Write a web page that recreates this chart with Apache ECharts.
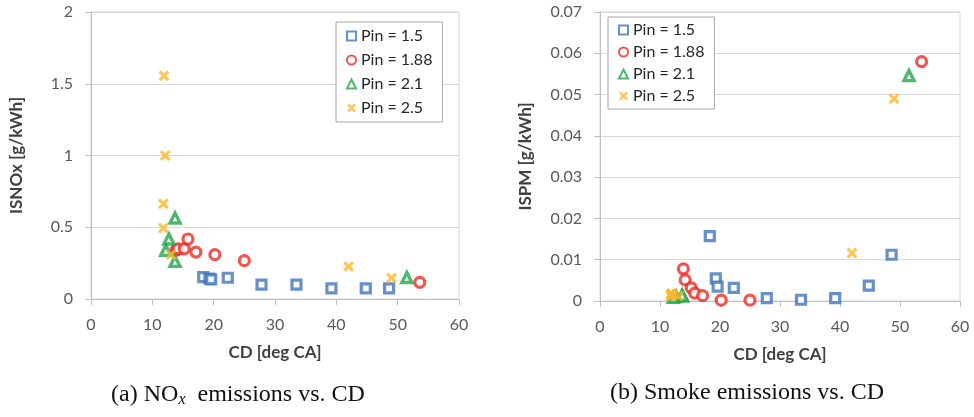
<!DOCTYPE html>
<html>
<head>
<meta charset="utf-8">
<script src="https://cdn.jsdelivr.net/npm/echarts@6/dist/echarts.min.js"></script>
<style>
  html, body { margin: 0; padding: 0; background: #fff; }
  #chart { width: 974px; height: 417px; }
</style>
</head>
<body>
<div id="chart"></div>
<script>
// CD [deg CA] for each pressure level, and the two emission readings
const seriesNames = ['Pin = 1.5', 'Pin = 1.88', 'Pin = 2.1', 'Pin = 2.5']

const cd15 = [18.3, 19.3, 19.6, 22.3, 27.8, 33.5, 39.2, 44.8, 48.6]
const nox15 = [0.153, 0.142, 0.137, 0.148, 0.1, 0.1, 0.074, 0.074, 0.074]
const pm15 = [0.0157, 0.0055, 0.0035, 0.0032, 0.0007, 0.0003, 0.0007, 0.0037, 0.0112]

const cd188 = [13.9, 14.2, 15.2, 15.8, 17.1, 20.2, 25.0, 53.6]
const nox188 = [0.34, 0.35, 0.35, 0.418, 0.327, 0.309, 0.267, 0.116]
const pm188 = [0.0078, 0.0051, 0.0032, 0.0019, 0.0013, 0.0002, 0.0002, 0.058]

const cd21 = [13.7, 12.7, 12.2, 13.7, 51.5]
const nox21 = [0.564, 0.418, 0.339, 0.262, 0.15]
const pm21 = [0.0012, 0.0011, 0.0009, 0.0014, 0.0546]

const cd25 = [11.9, 12.1, 11.8, 11.8, 13.05, 42.0, 49.0]
const nox25 = [1.556, 1.0, 0.664, 0.495, 0.309, 0.227, 0.146]
const pm25 = [0.0018, 0.0015, 0.0012, 0.0016, 0.0012, 0.0116, 0.049]

const xTicks = [0, 10, 20, 30, 40, 50, 60]

const colors = ['#3E74BA', '#EC2A24', '#23A64C', '#FCB82C']
const crossPath = 'path://M2,0 L5,3 L8,0 L10,2 L7,5 L10,8 L8,10 L5,7 L2,10 L0,8 L3,5 L0,2 Z'

const zip = (xs, ys) => xs.map((x, i) => [x, ys[i]])

const labelFont = 'Lato, "Open Sans", sans-serif'

const markerStyles = [
    { symbol: 'rect', symbolSize: 9, itemStyle: { color: '#fff', borderColor: colors[0], borderWidth: 3.2 } },
    { symbol: 'circle', symbolSize: 10, itemStyle: { color: '#fff', borderColor: colors[1], borderWidth: 3.2 } },
    { symbol: 'triangle', symbolSize: 10, itemStyle: { color: '#fff', borderColor: colors[2], borderWidth: 3.4 } },
    { symbol: crossPath, symbolSize: 11, itemStyle: { color: colors[3] } },
]

const makeSeries = (gridIndex, datasets) => datasets.map((d, i) => ({
    name: seriesNames[i],
    type: 'scatter',
    xAxisIndex: gridIndex,
    yAxisIndex: gridIndex,
    data: d,
    symbol: markerStyles[i].symbol,
    symbolSize: markerStyles[i].symbolSize,
    itemStyle: markerStyles[i].itemStyle,
    z: 2 + (i === 3 ? 1 : 0),
}))

const xAxisBase = (gridIndex) => ({
    type: 'value',
    gridIndex: gridIndex,
    min: xTicks[0],
    max: xTicks[xTicks.length - 1],
    interval: 10,
    name: 'CD [deg CA]',
    nameLocation: 'middle',
    nameGap: 45,
    nameTextStyle: { fontFamily: labelFont, fontSize: 17, fontWeight: 'bold', color: '#404040' },
    axisLine: { show: true, lineStyle: { color: '#bfbfbf' } },
    axisTick: { show: true, length: 6, lineStyle: { color: '#bfbfbf' } },
    axisLabel: { fontFamily: labelFont, fontSize: 16, color: '#595959', margin: 18 },
    splitLine: { show: false },
})

const yAxisBase = (gridIndex, name, max, interval) => ({
    type: 'value',
    gridIndex: gridIndex,
    min: 0,
    max: max,
    interval: interval,
    name: name,
    nameLocation: 'middle',
    nameGap: 66,
    nameTextStyle: { fontFamily: labelFont, fontSize: 17, fontWeight: 'bold', color: '#404040' },
    axisLine: { show: true, lineStyle: { color: '#bfbfbf' } },
    axisTick: { show: true, length: 6, lineStyle: { color: '#bfbfbf' } },
    axisLabel: {
        fontFamily: labelFont, fontSize: 16, color: '#595959', margin: 18,
        formatter: (v) => String(+v.toFixed(3)),
    },
    splitLine: { show: true, lineStyle: { color: '#d9d9d9' } },
})

const legendBase = {
    orient: 'vertical',
    backgroundColor: '#fff',
    borderColor: '#a6a6a6',
    borderWidth: 1,
    borderRadius: 0,
    itemWidth: 9,
    itemHeight: 9,
    itemGap: 10,
    textStyle: { fontFamily: labelFont, fontSize: 16, color: '#262626' },
    data: seriesNames.map((n, i) => ({ name: n })),
}

const chart = echarts.init(document.getElementById('chart'))

const captionRich = {
    t: { fontFamily: '"Liberation Serif", serif', fontSize: 24, fontWeight: 'normal', color: '#111' },
    sub: { fontFamily: '"Liberation Serif", serif', fontSize: 16, fontWeight: 'normal', fontStyle: 'italic', color: '#111', padding: [11, 0, 0, 0] },
}

chart.setOption({
    animation: false,
    color: colors,
    title: [
        {
            text: '{t|(a) NO}{sub|x}{t|  emissions vs. CD}',
            left: 233, top: 376, textAlign: 'center',
            textStyle: { fontWeight: 'normal', rich: captionRich },
        },
        {
            text: '{t|(b) Smoke emissions vs. CD}',
            left: 742, top: 376, textAlign: 'center',
            textStyle: { fontWeight: 'normal', rich: captionRich },
        },
    ],
    legend: [
        Object.assign({}, legendBase, { left: 336, top: 22, padding: [6, 10, 6, 10], itemGap: 8 }),
        Object.assign({}, legendBase, { left: 608, top: 17, padding: [5, 10, 5, 10], itemGap: 6 }),
    ],
    grid: [
        { left: 91, top: 12, width: 368, height: 287, show: true, borderColor: '#d9d9d9', borderWidth: 1 },
        { left: 600, top: 12, width: 360, height: 289, show: true, borderColor: '#d9d9d9', borderWidth: 1 },
    ],
    xAxis: [xAxisBase(0), xAxisBase(1)],
    yAxis: [
        yAxisBase(0, 'ISNOx [g/kWh]', 2, 0.5),
        yAxisBase(1, 'ISPM [g/kWh]', 0.07, 0.01),
    ],
    series: [
        ...makeSeries(0, [zip(cd15, nox15), zip(cd188, nox188), zip(cd21, nox21), zip(cd25, nox25)]),
        ...makeSeries(1, [zip(cd15, pm15), zip(cd188, pm188), zip(cd21, pm21), zip(cd25, pm25)]),
    ],
})
</script>
</body>
</html>
